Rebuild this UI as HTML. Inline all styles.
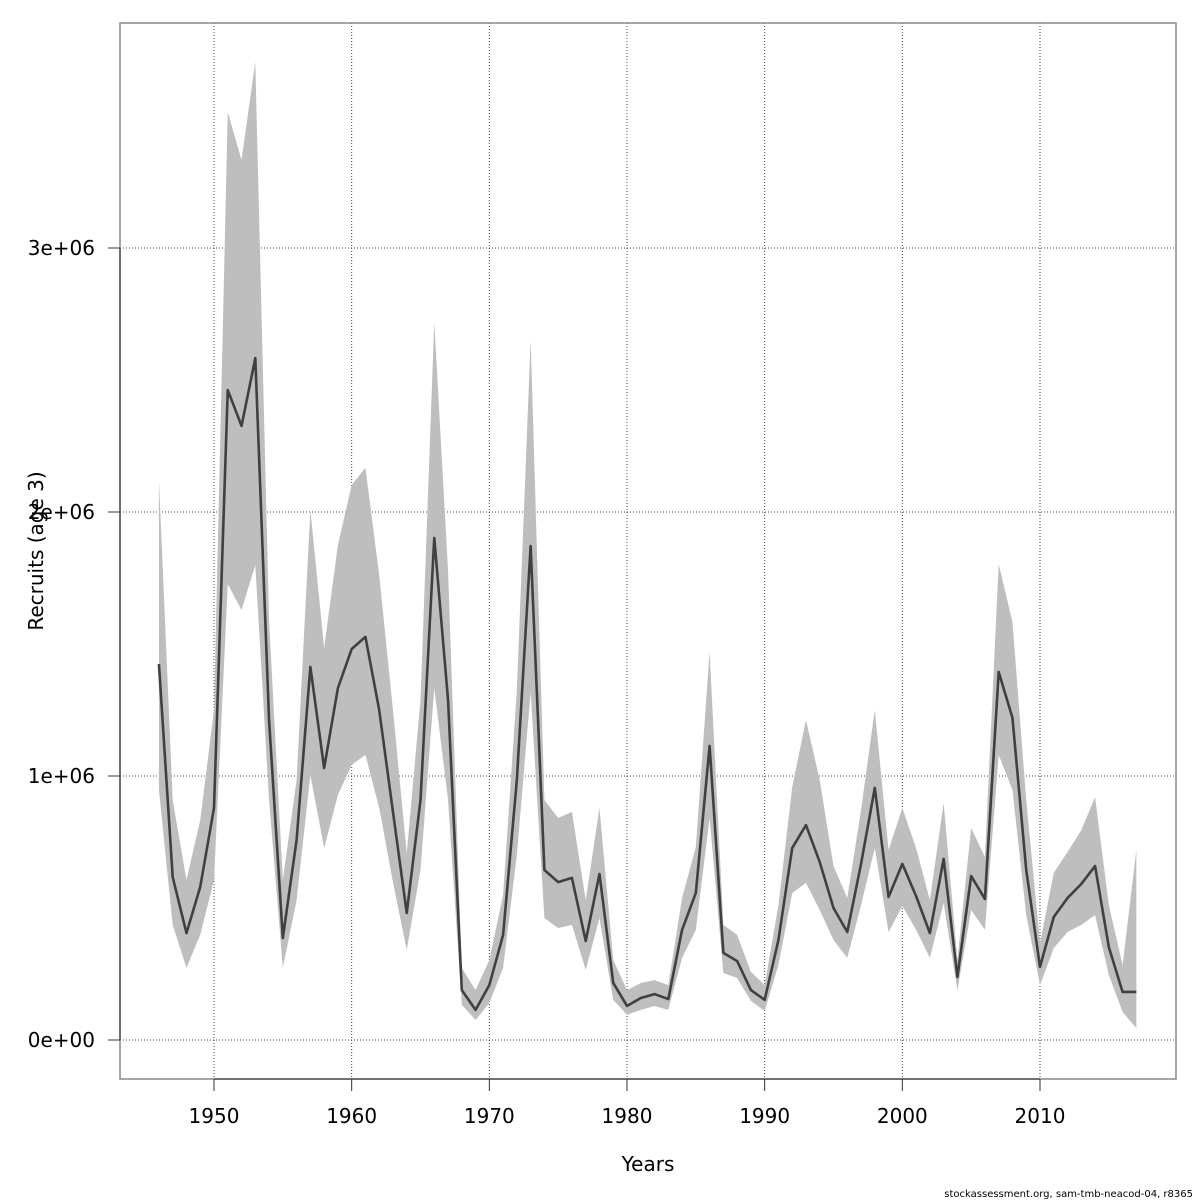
<!DOCTYPE html>
<html><head><meta charset="utf-8"><style>
html,body{margin:0;padding:0;background:#fff;overflow:hidden;}
svg{display:block;}
svg text{font-family:"DejaVu Sans","Liberation Sans",sans-serif;fill:#000;}
</style></head><body>
<svg id="chart" width="1200" height="1200" xmlns="http://www.w3.org/2000/svg"></svg>
<script>
const years = [];
for (let y = 1946; y <= 2017; y++) years.push(y);
const recruits = [1.424,0.617,0.405,0.580,0.879,2.462,2.326,2.583,1.212,0.386,0.758,1.413,1.030,1.333,1.481,1.527,1.250,0.864,0.481,0.909,1.902,1.288,0.189,0.114,0.208,0.398,0.985,1.871,0.644,0.598,0.614,0.375,0.629,0.216,0.129,0.159,0.174,0.155,0.417,0.557,1.114,0.330,0.299,0.189,0.152,0.379,0.727,0.814,0.674,0.500,0.409,0.667,0.955,0.542,0.667,0.545,0.405,0.686,0.239,0.621,0.534,1.394,1.220,0.644,0.277,0.466,0.538,0.591,0.659,0.352,0.182,0.182];
const upperCI = [2.121,0.909,0.606,0.833,1.250,3.515,3.333,3.705,1.591,0.606,0.985,2.008,1.485,1.875,2.102,2.167,1.761,1.250,0.708,1.288,2.720,1.780,0.273,0.189,0.303,0.549,1.326,2.652,0.909,0.841,0.864,0.530,0.879,0.303,0.189,0.216,0.227,0.208,0.538,0.731,1.470,0.436,0.398,0.258,0.208,0.511,0.958,1.212,0.985,0.659,0.538,0.871,1.250,0.720,0.879,0.727,0.530,0.898,0.303,0.803,0.693,1.803,1.583,0.909,0.367,0.633,0.712,0.795,0.920,0.511,0.284,0.720];
const lowerCI = [0.947,0.436,0.273,0.398,0.606,1.727,1.629,1.799,0.909,0.273,0.530,1.004,0.727,0.928,1.042,1.080,0.879,0.598,0.341,0.644,1.333,0.909,0.133,0.076,0.140,0.273,0.701,1.318,0.462,0.424,0.436,0.265,0.462,0.152,0.095,0.114,0.129,0.114,0.311,0.417,0.841,0.254,0.235,0.148,0.110,0.284,0.557,0.595,0.492,0.379,0.311,0.511,0.727,0.409,0.508,0.417,0.311,0.519,0.189,0.492,0.417,1.080,0.947,0.473,0.208,0.348,0.409,0.436,0.473,0.246,0.106,0.045];
const xTicks = [1950,1960,1970,1980,1990,2000,2010];
const yTicks = [0,1,2,3];
const yTickLabels = ["0e+00","1e+06","2e+06","3e+06"];

const NS = "http://www.w3.org/2000/svg";
const svg = document.getElementById('chart');
const L=120,T=23,R=1176,B=1079;
const xs = y => 214 + (y-1950)*(1040-214)/60;
const ys = v => 1040 - v*264;
function mk(tag, attrs){const e=document.createElementNS(NS,tag);for(const k in attrs)e.setAttribute(k,attrs[k]);svg.appendChild(e);return e;}

xTicks.forEach(t=>{
  const g=mk('line',{x1:xs(t),x2:xs(t),y1:T,y2:B,stroke:'#444','stroke-width':1,'stroke-dasharray':'1,2'});
  
  
});
yTicks.forEach(t=>{
  const g=mk('line',{x1:L,x2:R,y1:ys(t),y2:ys(t),stroke:'#444','stroke-width':1,'stroke-dasharray':'1,2'});
  
  
});

let pts = years.map((y,i)=>xs(y)+','+ys(upperCI[i]));
for(let i=years.length-1;i>=0;i--) pts.push(xs(years[i])+','+ys(lowerCI[i]));
const band = mk('polygon',{points:pts.join(' '),fill:'#bebebe',stroke:'none'});



const line = mk('polyline',{points:years.map((y,i)=>xs(y)+','+ys(recruits[i])).join(' '),fill:'none',stroke:'#404040','stroke-width':2.6,'stroke-linejoin':'round'});



const box = mk('rect',{x:L,y:T,width:R-L,height:B-T,fill:'none',stroke:'#888','stroke-width':1.5});



const xa = mk('line',{x1:xs(xTicks[0]),x2:xs(xTicks[xTicks.length-1]),y1:B,y2:B,stroke:'#555','stroke-width':1.5});


xTicks.forEach(t=>{
  const tk=mk('line',{x1:xs(t),x2:xs(t),y1:B,y2:B+12,stroke:'#333','stroke-width':1});
  
  
  const tx=mk('text',{x:xs(t),y:B+44,'text-anchor':'middle','font-size':20});
  tx.textContent=t;
  
  
});
const ya = mk('line',{x1:L,x2:L,y1:ys(yTicks[0]),y2:ys(yTicks[yTicks.length-1]),stroke:'#555','stroke-width':1.5});


yTicks.forEach((t,i)=>{
  const tk=mk('line',{x1:L-12,x2:L,y1:ys(t),y2:ys(t),stroke:'#333','stroke-width':1});
  
  
  const tx=mk('text',{x:95,y:ys(t)+7,'text-anchor':'end','font-size':20});
  tx.textContent=yTickLabels[i];
  
  
});

const xt=mk('text',{x:648,y:1171,'text-anchor':'middle','font-size':20});
xt.textContent='Years';


const yt=mk('text',{x:0,y:0,'text-anchor':'middle','font-size':20,transform:'translate(43,551) rotate(-90)'});
yt.textContent='Recruits (age 3)';


const ft=mk('text',{x:1193,y:1197,'text-anchor':'end','font-size':10});
ft.textContent='stockassessment.org, sam-tmb-neacod-04, r8365';


</script>
</body></html>
